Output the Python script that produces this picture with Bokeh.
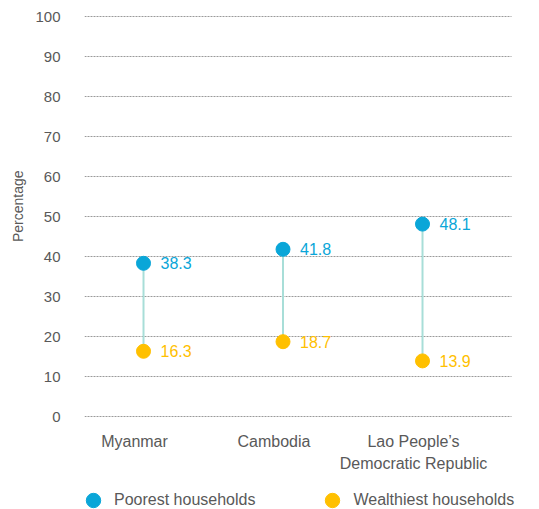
from bokeh.plotting import figure
from bokeh.models import (ColumnDataSource, Range1d, FixedTicker, Legend,
                          LegendItem, Title)
from bokeh.core.properties import value
from bokeh.embed import file_html
from bokeh.resources import INLINE

# Share of households (%) by wealth group
countries = ["Myanmar", "Cambodia", "Lao People\u2019s\nDemocratic Republic"]
poorest = [38.3, 41.8, 48.1]
wealthiest = [16.3, 18.7, 13.9]
series_names = ["Poorest households", "Wealthiest households"]
y_ticks = [0, 10, 20, 30, 40, 50, 60, 70, 80, 90, 100]

FONT = "Liberation Sans"
GREY = "#595959"
BLUE = "#0aa6d8"
YELLOW = "#ffc000"
STEM = "#a8ded8"

idx = list(range(len(countries)))
src = ColumnDataSource(dict(
    x=idx,
    base=[0] * len(countries),
    country=countries,
    poor=poorest,
    rich=wealthiest,
    poor_txt=[f"{v:.1f}" for v in poorest],
    rich_txt=[f"{v:.1f}" for v in wealthiest],
))

# frame reaches the bottom/right edge so names and key sit inside it;
# the gridlines stop at GRID_END
X_START, X_END, GRID_END = -0.423, 2.853, 2.638
Y_START, Y_END = -23.25, 100.25

p = figure(frame_width=457, frame_height=494,
           x_range=Range1d(X_START, X_END), y_range=Range1d(Y_START, Y_END),
           min_border_left=82, min_border_right=0,
           min_border_top=15, min_border_bottom=0,
           x_axis_location=None,
           output_backend="svg", toolbar_location=None)
p.outline_line_color = None
p.grid.visible = False

# dotted horizontal gridlines at each y tick
grid_src = ColumnDataSource(dict(y=y_ticks,
                                 x0=[X_START] * len(y_ticks),
                                 x1=[GRID_END] * len(y_ticks)))
p.segment(x0="x0", y0="y", x1="x1", y1="y", source=grid_src,
          line_color="#9a9a9a", line_dash="2 1", line_width=1)

# y axis
p.yaxis.ticker = FixedTicker(ticks=y_ticks)
p.yaxis.axis_line_color = None
p.yaxis.major_tick_line_color = None
p.yaxis.minor_tick_line_color = None
p.yaxis.major_label_standoff = 18
p.yaxis.major_label_text_font = FONT
p.yaxis.major_label_text_font_size = "15px"
p.yaxis.major_label_text_color = GREY

# y title, set level with the middle of the 0-100 scale
ytitle = Title(text="Percentage", align="right", offset=155, standoff=14,
               text_font=FONT, text_font_size="14px", text_font_style="normal",
               text_color=GREY)
p.add_layout(ytitle, "left")

# category names under the baseline
p.text(x="x", y="base", text="country", source=src,
       x_offset=-9, y_offset=16, text_align="center", text_baseline="top",
       text_font=value(FONT), text_font_size="16px", text_color=GREY,
       text_line_height=1.3)

# stems between the two groups
p.segment(x0="x", y0="rich", x1="x", y1="poor", source=src,
          line_color=STEM, line_width=2)

r_poor = p.ellipse(x="x", y="poor", source=src, width=14, height=14,
                   width_units="screen", height_units="screen",
                   fill_color=BLUE, line_color=BLUE)
r_rich = p.ellipse(x="x", y="rich", source=src, width=14, height=14,
                   width_units="screen", height_units="screen",
                   fill_color=YELLOW, line_color=YELLOW)

p.text(x="x", y="poor", text="poor_txt", source=src, x_offset=17,
       text_align="left", text_baseline="middle",
       text_font=value(FONT), text_font_size="16px", text_color=BLUE)
p.text(x="x", y="rich", text="rich_txt", source=src, x_offset=17,
       text_align="left", text_baseline="middle",
       text_font=value(FONT), text_font_size="16px", text_color=YELLOW)

legend = Legend(items=[LegendItem(label=series_names[0], renderers=[r_poor]),
                       LegendItem(label=series_names[1], renderers=[r_rich])],
                orientation="horizontal", location="bottom_left",
                glyph_width=18, glyph_height=18, label_standoff=12,
                spacing=68, padding=0, margin=0,
                border_line_color=None, background_fill_alpha=0,
                label_text_font=FONT, label_text_font_size="16px",
                label_text_color=GREY)
p.add_layout(legend, "center")

open("out.html", "w").write(file_html(p, INLINE))
